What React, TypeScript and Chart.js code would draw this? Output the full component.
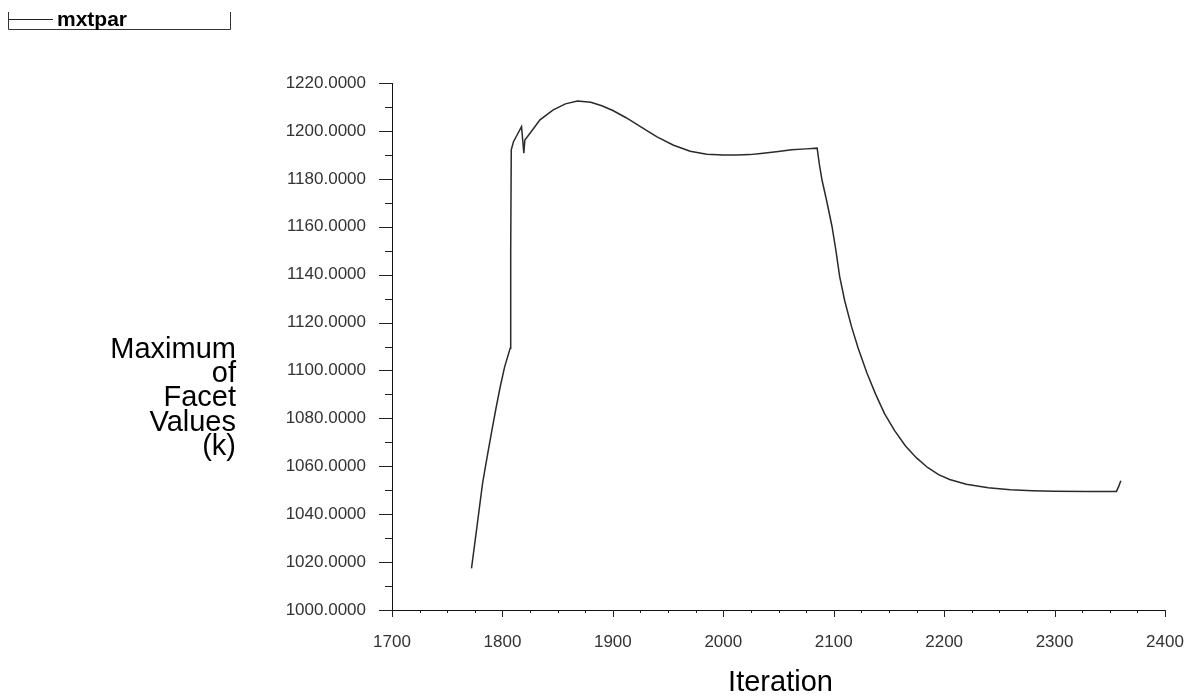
import React, { useEffect, useRef } from "react";
import { Chart, registerables } from "chart.js";

Chart.register(...registerables);

const iterations = [
  1772, 1777, 1782, 1786, 1790, 1794, 1798, 1802, 1807, 1807.5, 1808, 1810, 1813.5, 1817.3,
  1819.4, 1820.3, 1825, 1834, 1846, 1857, 1868, 1880, 1890, 1900, 1912, 1925, 1940, 1955,
  1970, 1985, 2000, 2012, 2024, 2034, 2048, 2062, 2075, 2085, 2087, 2089.4, 2094, 2098.5,
  2102, 2105.4, 2110, 2116, 2122, 2130, 2138, 2146, 2155, 2165, 2175, 2185, 2195, 2205,
  2220, 2240, 2260, 2280, 2300, 2330, 2356, 2358, 2360,
];
const facetMax = [
  1017.4, 1035, 1052.9, 1063.5, 1073.8, 1083.8, 1093.2, 1101.5, 1109.3, 1150, 1192.1, 1195.5,
  1198.5, 1201.8, 1190.7, 1196.2, 1199, 1204.6, 1208.8, 1211.3, 1212.5, 1212, 1210.5, 1208.5,
  1205.5, 1201.8, 1197.5, 1194, 1191.5, 1190.3, 1189.9, 1189.9, 1190.1, 1190.6, 1191.3,
  1192.1, 1192.5, 1192.8, 1186, 1179.5, 1170, 1160, 1150, 1139.2, 1129, 1118.5, 1109.5, 1099,
  1090, 1082, 1075, 1068.5, 1063.5, 1059.5, 1056.5, 1054.5, 1052.5, 1051, 1050.2, 1049.8,
  1049.6, 1049.5, 1049.5, 1051.5, 1054,
];
const seriesName = "mxtpar";
const yTitleLines = ["Maximum", "of", "Facet", "Values", "(k)"];
const xTitle = "Iteration";
const xMin = 1700, xMax = 2400, xMajor = 100, xMinor = 25;
const yMin = 1000, yMax = 1220, yMajor = 20, yMinor = 10;

const FONT = '"Liberation Sans", Arial, Helvetica, sans-serif';

const decorPlugin = {
  id: "decor",
  afterDraw(chart: any) {
    const ctx = chart.ctx as CanvasRenderingContext2D;
    const xs = chart.scales.x;
    const ys = chart.scales.y;
    const area = chart.chartArea;
    ctx.save();
    ctx.strokeStyle = "#222";
    ctx.lineWidth = 1;
    for (let v = xMin; v <= xMax + 1e-9; v += xMinor) {
      const px = Math.round(xs.getPixelForValue(v)) + 0.5;
      const len = v % xMajor === 0 ? 7 : 3;
      ctx.beginPath();
      ctx.moveTo(px, area.bottom);
      ctx.lineTo(px, area.bottom + len);
      ctx.stroke();
    }
    for (let v = yMin; v <= yMax + 1e-9; v += yMinor) {
      const py = Math.round(ys.getPixelForValue(v)) + 0.5;
      const len = v % yMajor === 0 ? 13 : 7;
      ctx.beginPath();
      ctx.moveTo(area.left, py);
      ctx.lineTo(area.left - len, py);
      ctx.stroke();
    }
    ctx.fillStyle = "#000";
    ctx.font = `29px ${FONT}`;
    ctx.textAlign = "right";
    ctx.textBaseline = "alphabetic";
    const baseY = 358;
    yTitleLines.forEach((t, i) => ctx.fillText(t, 236, baseY + i * 24.2));
    ctx.textAlign = "center";
    ctx.fillText(xTitle, (area.left + area.right) / 2 + 2, 691);
    ctx.strokeStyle = "#333";
    ctx.lineWidth = 1;
    ctx.beginPath();
    ctx.moveTo(8.5, 12);
    ctx.lineTo(8.5, 29.5);
    ctx.lineTo(230.5, 29.5);
    ctx.lineTo(230.5, 12);
    ctx.stroke();
    ctx.strokeStyle = "#222";
    ctx.beginPath();
    ctx.moveTo(9, 19.5);
    ctx.lineTo(53, 19.5);
    ctx.stroke();
    ctx.font = `bold 21px ${FONT}`;
    ctx.textAlign = "left";
    ctx.fillText(seriesName, 57, 26);
    ctx.restore();
  },
};

export default function App() {
  const ref = useRef<HTMLCanvasElement | null>(null);
  useEffect(() => {
    if (!ref.current) return;
    const points = iterations.map((x, i) => ({ x, y: facetMax[i] }));
    const chart = new Chart(ref.current, {
      type: "line",
      data: {
        datasets: [
          {
            label: seriesName,
            data: points,
            borderColor: "#2a2a2a",
            borderWidth: 1.5,
            pointRadius: 0,
            tension: 0,
            fill: false,
          },
        ],
      },
      options: {
        responsive: false,
        animation: false,
        devicePixelRatio: 1,
        parsing: false,
        layout: { padding: { left: 0, top: 83, right: 26, bottom: 0 } },
        plugins: { legend: { display: false }, tooltip: { enabled: false } },
        scales: {
          x: {
            type: "linear",
            min: xMin,
            max: xMax,
            afterFit: (s: any) => {
              s.height = 88;
              s.paddingLeft = 0;
              s.paddingRight = 0;
            },
            grid: { display: false, drawTicks: false },
            border: { display: true, color: "#111", width: 1 },
            ticks: {
              stepSize: xMajor,
              padding: 22,
              color: "#333",
              font: { family: FONT, size: 17 },
              maxRotation: 0,
              callback: (v: any) => String(v),
            },
          },
          y: {
            type: "linear",
            min: yMin,
            max: yMax,
            afterFit: (s: any) => {
              s.width = 392;
              s.paddingTop = 0;
              s.paddingBottom = 0;
            },
            grid: { display: false, drawTicks: false },
            border: { display: true, color: "#111", width: 1 },
            ticks: {
              stepSize: yMajor,
              padding: 26,
              color: "#333",
              font: { family: FONT, size: 17 },
              callback: (v: any) => Number(v).toFixed(4),
            },
          },
        },
      },
      plugins: [decorPlugin],
    });
    return () => chart.destroy();
  }, []);
  return (
    <div style={{ position: "absolute", left: 0, top: 0, width: 1191, height: 698, background: "#fff" }}>
      <canvas ref={ref} width={1191} height={698} style={{ display: "block" }} />
    </div>
  );
}
